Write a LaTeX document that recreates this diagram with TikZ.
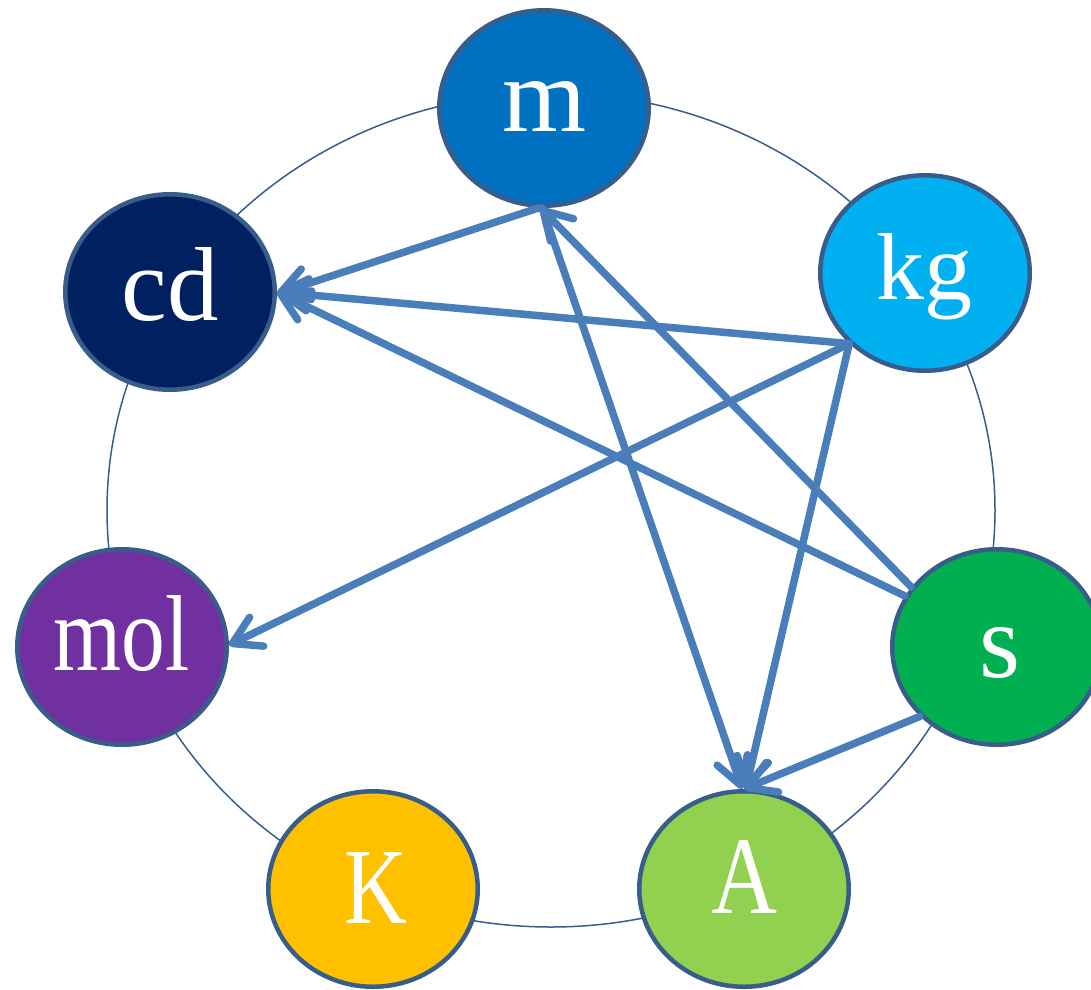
\documentclass[tikz,border=0pt]{standalone}
\usepackage{fontspec}
\setmainfont{Liberation Serif}
\usetikzlibrary{shapes.geometric,arrows.meta}
\definecolor{ringc}{HTML}{385D8A}
\definecolor{arrc}{HTML}{4A7EBB}
\definecolor{cM}{HTML}{0070C0}
\definecolor{cKG}{HTML}{00B0F0}
\definecolor{cS}{HTML}{00B050}
\definecolor{cA}{HTML}{92D050}
\definecolor{cK}{HTML}{FFC000}
\definecolor{cMOL}{HTML}{7030A0}
\definecolor{cCD}{HTML}{002060}
\begin{document}
\begin{tikzpicture}[x=1pt,y=-1pt,
  unit/.style={ellipse, draw=ringc, line width=4.5pt, minimum width=209.5pt, minimum height=195.5pt, inner sep=0pt},
  lbl/.style={anchor=base, inner sep=0pt, text=white},
  link/.style={draw=arrc, line width=7.5pt, line cap=round, -{Straight Barb[length=27pt,width=32pt,round]}},
  ringline/.style={ellipse, draw=ringc, line width=1.5pt, inner sep=0pt}]
\useasboundingbox (0,0) rectangle (1091,989);
\node[ringline, minimum width=888pt, minimum height=834pt] (ring) at (551,510) {};
\node[unit, fill=cM]   (m)   at (544,108) {};
\node[unit, fill=cKG]  (kg)  at (925,273) {};
\node[unit, fill=cS]   (s)   at (997,647) {};
\node[unit, fill=cA]   (A)   at (744,889) {};
\node[unit, fill=cK]   (K)   at (373,889) {};
\node[unit, fill=cMOL] (mol) at (122,647) {};
\node[unit, fill=cCD]  (cd)  at (170,292) {};
\node[lbl] (mt)   at (545,131)   {\resizebox{84pt}{50pt}{m}};
\node[lbl] (kgt)  at (924,299)   {\resizebox{96pt}{66pt}{kg}};
\node[lbl] (st)   at (999.5,677) {\resizebox{41pt}{50pt}{s}};
\node[lbl] (At)   at (745,913)   {\resizebox{66pt}{73pt}{A}};
\node[lbl] (Kt)   at (376,923)   {\resizebox{63pt}{71pt}{K}};
\node[lbl] (molt) at (121.5,670) {\resizebox{136pt}{75pt}{mol}};
\node[lbl] (cdt)  at (170.5,320) {\resizebox{97pt}{73pt}{cd}};
\draw[link] (m.267) -- (cd.359.5);
\draw[link] (kg.223) -- (cd.0);
\draw[link] (s.151) -- (cd.0.5);
\draw[link] (kg.223) -- (mol.1);
\draw[link] (s.145) -- (m.268);
\draw[link] (m.269) -- (A.91);
\draw[link] (kg.223) -- (A.89);
\draw[link] (s.222) -- (A.90);
\end{tikzpicture}
\end{document}
